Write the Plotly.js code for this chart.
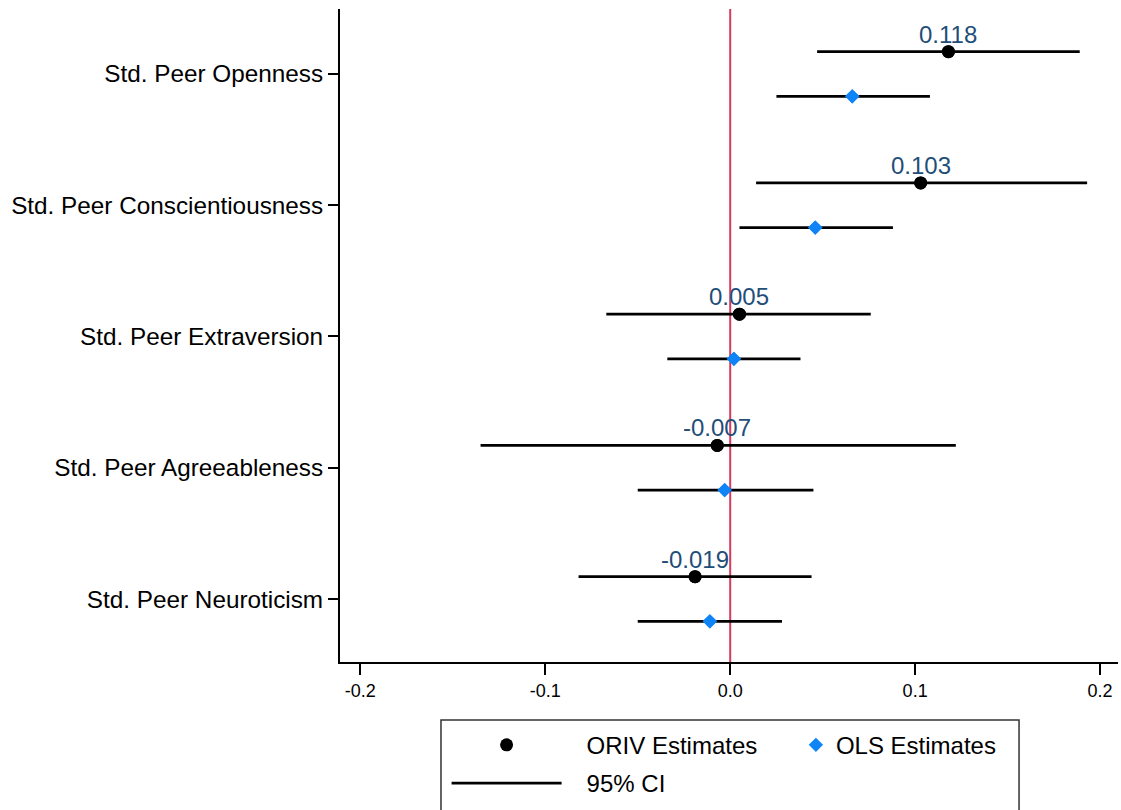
<!DOCTYPE html>
<html>
<head>
<meta charset="utf-8">
<script src="https://cdn.plot.ly/plotly-3.0.1.min.js"></script>
<style>html,body{margin:0;padding:0;background:#fff;}#chart{width:1121px;height:810px;}</style>
</head>
<body>
<div id="chart"></div>
<script>
// ---- data ----
const categories = ["Std. Peer Openness", "Std. Peer Conscientiousness", "Std. Peer Extraversion", "Std. Peer Agreeableness", "Std. Peer Neuroticism"];
const orivEst = [0.118, 0.103, 0.005, -0.007, -0.019];
const orivLow = [0.047, 0.014, -0.067, -0.135, -0.082];
const orivHigh = [0.189, 0.193, 0.076, 0.122, 0.044];
const olsEst = [0.066, 0.046, 0.002, -0.003, -0.011];
const olsLow = [0.025, 0.005, -0.034, -0.050, -0.050];
const olsHigh = [0.108, 0.088, 0.038, 0.045, 0.028];
const xTicks = [-0.2, -0.1, 0.0, 0.1, 0.2];
const xTickText = ["-0.2", "-0.1", "0.0", "0.1", "0.2"];
const seriesNames = ["ORIV Estimates", "OLS Estimates", "95% CI"];
const refLine = 0;

// ---- layout helpers ----
const n = categories.length;
const basePos = categories.map((c, i) => n - i);
const off = 0.17;
const orivPos = basePos.map(p => p + off);
const olsPos = basePos.map(p => p - off);

function segments(lo, hi, pos) {
  const xs = [], ys = [];
  lo.forEach((l, i) => { xs.push(l, hi[i], null); ys.push(pos[i], pos[i], null); });
  return {xs, ys};
}
const s1 = segments(orivLow, orivHigh, orivPos);
const s2 = segments(olsLow, olsHigh, olsPos);

const font = "Liberation Sans, Arial, Helvetica, sans-serif";
const pad = "\u00a0\u00a0\u00a0";

const traces = [
  {
    x: orivEst, y: orivPos, mode: "markers", name: pad + seriesNames[0],
    marker: {symbol: "circle", color: "black", size: 13},
    legend: "legend", legendgroup: "a", legendrank: 1
  },
  {
    x: s1.xs.concat(s2.xs), y: s1.ys.concat(s2.ys),
    mode: "lines", name: pad + seriesNames[2], line: {color: "black", width: 2.8},
    legend: "legend", legendgroup: "b", legendrank: 2, hoverinfo: "skip"
  },
  {
    x: olsEst, y: olsPos, mode: "markers", name: seriesNames[1],
    marker: {symbol: "diamond", color: "#0f84f7", size: 11},
    legend: "legend2"
  }
];
// redraw markers above lines
traces.push(Object.assign({}, traces[0], {showlegend: false}));
traces.push(Object.assign({}, traces[2], {showlegend: false}));

const annotations = orivEst.map((v, i) => ({
  x: v, y: orivPos[i], xref: "x", yref: "y", text: v.toFixed(3), showarrow: false,
  xanchor: "center", yanchor: "middle", yshift: 17.5,
  font: {family: font, size: 24, color: "#1f4e79"}
}));

const layout = {
  width: 1121, height: 810,
  margin: {l: 340, r: 3, t: 9, b: 148},
  paper_bgcolor: "white", plot_bgcolor: "white",
  font: {family: font, size: 24, color: "black"},
  showlegend: true,
  annotations: annotations,
  xaxis: {
    range: [-0.211, 0.2097], tickvals: xTicks, ticktext: xTickText,
    showline: true, linecolor: "black", linewidth: 2,
    ticks: "outside", ticklen: 11, tickwidth: 2, tickcolor: "black",
    showgrid: false, zeroline: false, tickfont: {size: 18}
  },
  yaxis: {
    range: [0.52, 5.495], tickvals: basePos, ticktext: categories,
    showline: true, linecolor: "black", linewidth: 2,
    ticks: "outside", ticklen: 10, tickwidth: 2, tickcolor: "black",
    showgrid: false, zeroline: false, tickfont: {size: 24.3}, ticklabelstandoff: 0
  },
  shapes: [
    {type: "line", xref: "x", yref: "paper", x0: refLine, x1: refLine, y0: 0, y1: 1,
     line: {color: "#d63a5e", width: 2}, layer: "below"},
    {type: "rect", xref: "paper", yref: "paper", x0: 0.1298, x1: 0.8728, y0: -0.0888, y1: -0.2297,
     line: {color: "#333", width: 1.5}, fillcolor: "rgba(0,0,0,0)"}
  ],
  legend: {
    x: 0.137, xanchor: "left", y: -0.093, yanchor: "top",
    orientation: "v", itemwidth: 110, bgcolor: "rgba(0,0,0,0)", borderwidth: 0,
    font: {size: 24}, traceorder: "grouped", tracegroupgap: 4
  },
  legend2: {
    x: 0.586, xanchor: "left", y: -0.093, yanchor: "top",
    orientation: "v", itemwidth: 30, bgcolor: "rgba(0,0,0,0)", borderwidth: 0,
    font: {size: 24}
  }
};

Plotly.newPlot("chart", traces, layout, {displayModeBar: false, staticPlot: true});
</script>
</body>
</html>
